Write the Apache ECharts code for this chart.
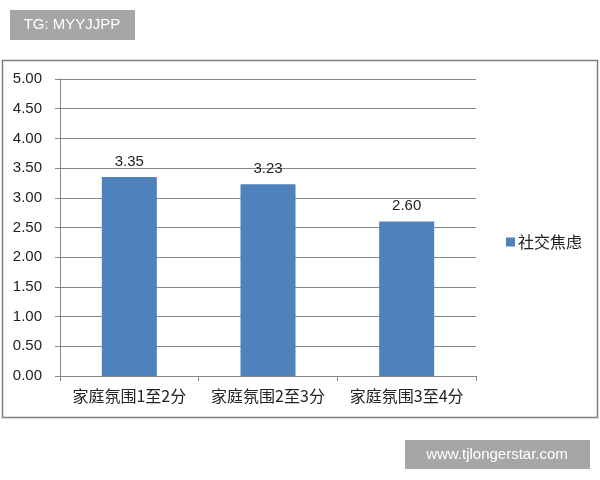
<!DOCTYPE html>
<html><head><meta charset="utf-8">
<script src="https://cdn.jsdelivr.net/npm/echarts@6/dist/echarts.min.js"></script>
<style>html,body{margin:0;padding:0;background:#fff}#c{width:600px;height:480px}</style>
</head><body><div id="c"></div>
<script>
const categories = ['家庭氛围1至2分', '家庭氛围2至3分', '家庭氛围3至4分'];
const seriesName = '社交焦虑';
const values = [3.35, 3.23, 2.60];
const watermarkTop = 'TG: MYYJJPP';
const watermarkBottom = 'www.tjlongerstar.com';

const font = '"Noto Sans CJK SC", "Liberation Sans", sans-serif';
const chart = echarts.init(document.getElementById('c'));
chart.setOption({
  animation: false,
  backgroundColor: '#fff',
  textStyle: { fontFamily: font },
  graphic: [
    { type: 'rect', shape: { x: 2.5, y: 60.5, width: 595, height: 357 }, style: { fill: 'none', stroke: '#7f7f7f', lineWidth: 1.5 }, z: -1 },
    { type: 'rect', shape: { x: 10, y: 10, width: 125, height: 30 }, style: { fill: '#a6a6a6' } },
    { type: 'text', x: 72, y: 25, style: { text: watermarkTop, fill: '#fff', font: '15px "Liberation Sans", sans-serif', align: 'center', verticalAlign: 'middle' } },
    { type: 'rect', shape: { x: 405, y: 440, width: 185, height: 29 }, style: { fill: '#a6a6a6' } },
    { type: 'text', x: 497, y: 455, style: { text: watermarkBottom, fill: '#fff', font: '15px "Liberation Sans", sans-serif', align: 'center', verticalAlign: 'middle' } }
  ],
  grid: { left: 60, right: 124, top: 79, bottom: 104, containLabel: false },
  legend: {
    orient: 'vertical', left: 501, top: 229,
    itemWidth: 9, itemHeight: 9, itemGap: 4, icon: 'rect',
    textStyle: { fontSize: 16, color: '#222', fontFamily: font, padding: [0, 0, 0, -2] },
    data: [seriesName]
  },
  xAxis: {
    type: 'category', data: categories,
    axisLine: { lineStyle: { color: '#868686' } },
    axisTick: { show: true, length: 5, interval: 0, alignWithLabel: false, lineStyle: { color: '#868686' } },
    axisLabel: { fontSize: 16, color: '#222', margin: 12, interval: 0, hideOverlap: false, fontFamily: font },
    splitLine: { show: false }
  },
  yAxis: {
    type: 'value', min: 0, max: 5, interval: 0.5,
    axisLine: { show: true, lineStyle: { color: '#868686' } },
    axisTick: { show: true, length: 5, inside: false, lineStyle: { color: '#868686' } },
    axisLabel: { fontSize: 15, color: '#222', margin: 18, formatter: v => v.toFixed(2), fontFamily: '"Liberation Sans", sans-serif' },
    splitLine: { lineStyle: { color: '#868686' } }
  },
  series: [{
    name: seriesName, type: 'bar', data: values, barWidth: 55,
    itemStyle: { color: '#4f81bd' },
    label: { show: true, position: 'top', distance: 8, fontSize: 15, color: '#222', formatter: p => p.value.toFixed(2), fontFamily: '"Liberation Sans", sans-serif' }
  }]
});
</script></body></html>
